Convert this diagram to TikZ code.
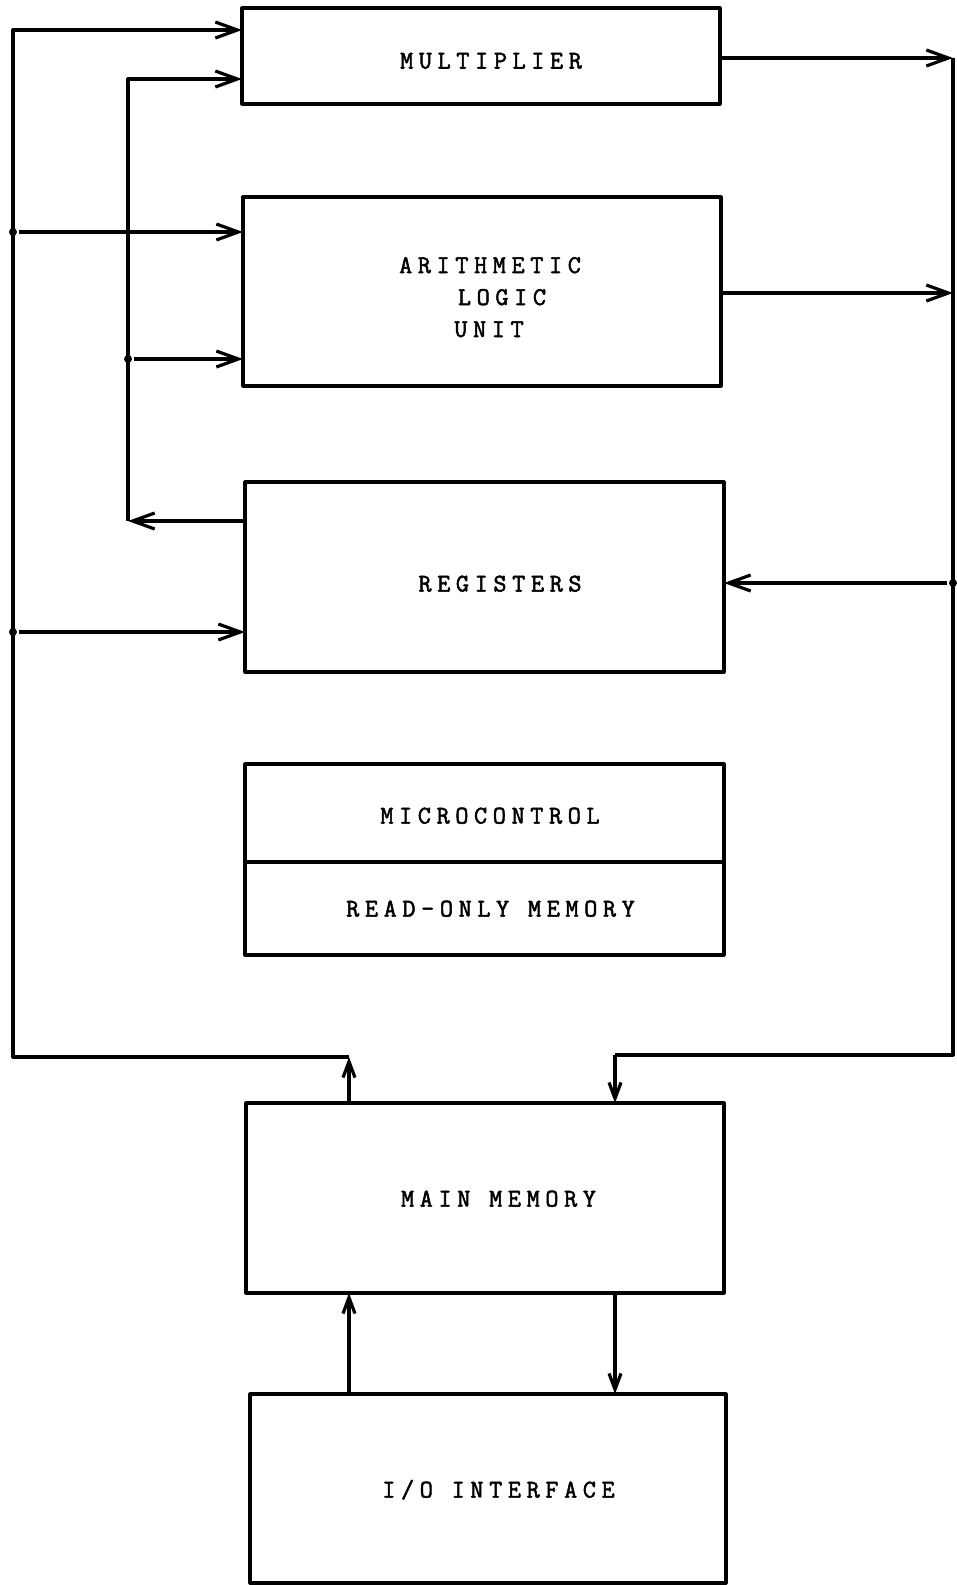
\documentclass[tikz,border=0pt]{standalone}
\usepackage{fontspec}
\newfontfamily\tw[LetterSpace=22,FakeBold=2]{Latin Modern Mono}
\usetikzlibrary{arrows.meta}
\begin{document}
\begin{tikzpicture}[x=1pt,y=-1pt,line width=3.2pt,line join=round,
 box/.style={draw, rectangle, inner sep=0pt, outer sep=0pt},
 lbl/.style={font=\tw\fontsize{25.5}{30}\selectfont, inner sep=0pt, text height=15pt, text depth=0pt},
 harr/.style={-{Straight Barb[length=22pt,width=16pt]}},
 varr/.style={-{Straight Barb[length=16pt,width=12pt]}},
 jdot/.style={circle, fill, inner sep=0pt, minimum size=8pt}]
\fill[white] (0,0) rectangle (956,1585);
\useasboundingbox (0,0) rectangle (956,1585);
% boxes
\node[box, minimum width=478pt, minimum height=96pt] (mult) at (481,56) {};
\node[box, minimum width=478pt, minimum height=189pt] (alu) at (482,291.5) {};
\node[box, minimum width=479pt, minimum height=190pt] (reg) at (484.5,577) {};
\node[box, minimum width=479pt, minimum height=98pt] (mc) at (484.5,813) {};
\node[box, minimum width=479pt, minimum height=93pt, anchor=north] (rom) at (mc.south) {};
\node[box, minimum width=478pt, minimum height=190pt] (mem) at (485,1198) {};
\node[box, minimum width=476pt, minimum height=189pt] (io) at (488,1488.5) {};
% texts
\node[lbl] (tmult) at (491,61) {MULTIPLIER};
\node[lbl] (talu1) at (490,265.5) {ARITHMETIC};
\node[lbl] (talu2) at (502,297.5) {LOGIC};
\node[lbl] (talu3) at (489,329.5) {UNIT};
\node[lbl] (treg) at (500,584) {REGISTERS};
\node[lbl] (tmc) at (490,816) {MICROCONTROL};
\node[lbl] (trom) at (490.5,909) {READ-ONLY MEMORY};
\node[lbl] (tmem) at (498.5,1199) {MAIN MEMORY};
\node[lbl] (tio) at (498.5,1490) {I/O INTERFACE};
% bus points
\coordinate (lt) at (13,30);
\coordinate (lm) at (349,1057);
\coordinate (it) at (128,79);
\coordinate (ib) at (128,521);
\coordinate (rt) at (953,58);
\coordinate (rb) at (953,1055);
\coordinate (rm) at (615,1055);
\coordinate (ao) at (953,293);
\node[jdot] (d1) at (13,232) {};
\node[jdot] (d2) at (13,632) {};
\node[jdot] (d3) at (128,359) {};
\node[jdot] (d4) at (953,583) {};
% left bus
\draw[harr] (lm) -| (lt) -- (lt -| mult.west);
\draw[harr] (d1) -- (d1 -| alu.west);
\draw[harr] (d2) -- (d2 -| reg.west);
% inner bus
\draw[harr] (reg.west |- ib) -- (ib);
\draw[harr] (ib) -- (it) -- (it -| mult.west);
\draw[harr] (d3) -- (d3 -| alu.west);
% right bus
\draw[harr] (mult.east |- rt) -- (rt);
\draw[harr] (alu.east |- ao) -- (ao);
\draw (rt) -- (rb) -- (rm);
\draw[harr] (d4) -- (d4 -| reg.east);
\draw[varr] (rm) -- (rm |- mem.north);
% memory links
\draw[varr] (lm |- mem.north) -- (lm);
\draw[varr] (lm |- io.north) -- (lm |- mem.south);
\draw[varr] (rm |- mem.south) -- (rm |- io.north);
\end{tikzpicture}
\end{document}
